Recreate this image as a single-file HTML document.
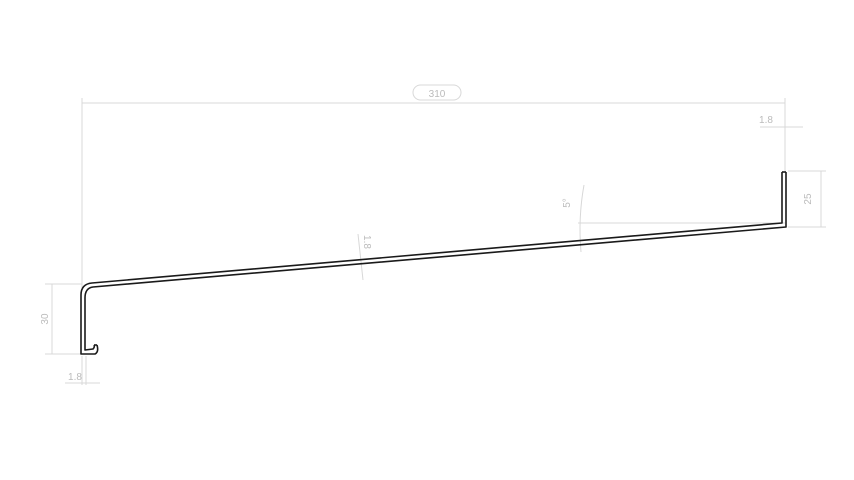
<!DOCTYPE html>
<html><head><meta charset="utf-8"><style>html,body{margin:0;padding:0;background:#fff}svg{display:block}</style></head>
<body>
<svg width="854" height="480" viewBox="0 0 854 480" xmlns="http://www.w3.org/2000/svg" font-family="Liberation Sans, sans-serif">
<g stroke="#d8d8d8" stroke-width="1" fill="none">
<line x1="82" y1="103" x2="785" y2="103"/>
<line x1="82" y1="98" x2="82" y2="290"/>
<line x1="785" y1="98" x2="785" y2="171"/>
<line x1="760" y1="127" x2="803" y2="127"/>
<line x1="785" y1="113" x2="785" y2="127"/>
<line x1="788" y1="171" x2="826" y2="171"/>
<line x1="788" y1="227" x2="826" y2="227"/>
<line x1="821" y1="171" x2="821" y2="227"/>
<line x1="578" y1="223" x2="785" y2="223"/>
<path d="M584 185 Q578 218 581 252"/>
<line x1="45" y1="284" x2="82" y2="284"/>
<line x1="45" y1="354" x2="82" y2="354"/>
<line x1="52" y1="284" x2="52" y2="354"/>
<line x1="65" y1="383" x2="100" y2="383"/>
<line x1="82" y1="356" x2="82" y2="385"/>
<line x1="86" y1="356" x2="86" y2="385"/>
<line x1="358" y1="234" x2="363" y2="280"/>
<rect x="413" y="85" width="48" height="15" rx="7.5"/>
</g>
<g fill="#bbb" font-size="10">
<text x="437" y="97" text-anchor="middle">310</text>
<text x="766" y="123" text-anchor="middle">1.8</text>
<text x="75" y="380" text-anchor="middle">1.8</text>
<text transform="translate(48,319) rotate(-90)" text-anchor="middle">30</text>
<text transform="translate(811,199) rotate(-90)" text-anchor="middle">25</text>
<text transform="translate(570,203) rotate(-90)" text-anchor="middle">5°</text>
<text transform="translate(364,242) rotate(90)" text-anchor="middle">1.8</text>
</g>
<g stroke="#1a1a1a" stroke-width="1.6" fill="none" stroke-linejoin="round">
<path d="M782 172 L782 223 L92 283 Q81 284 81 295 L81 354 L95 354 Q99 352 97 345"/>
<path d="M786 172 L786 227 L93 287 Q85 288 85 298 L85 350 L93 349 Q95 347 94 345"/>
<line x1="782" y1="172" x2="786" y2="172"/>
<line x1="97" y1="345" x2="94" y2="345"/>
</g>
</svg>
</body></html>
